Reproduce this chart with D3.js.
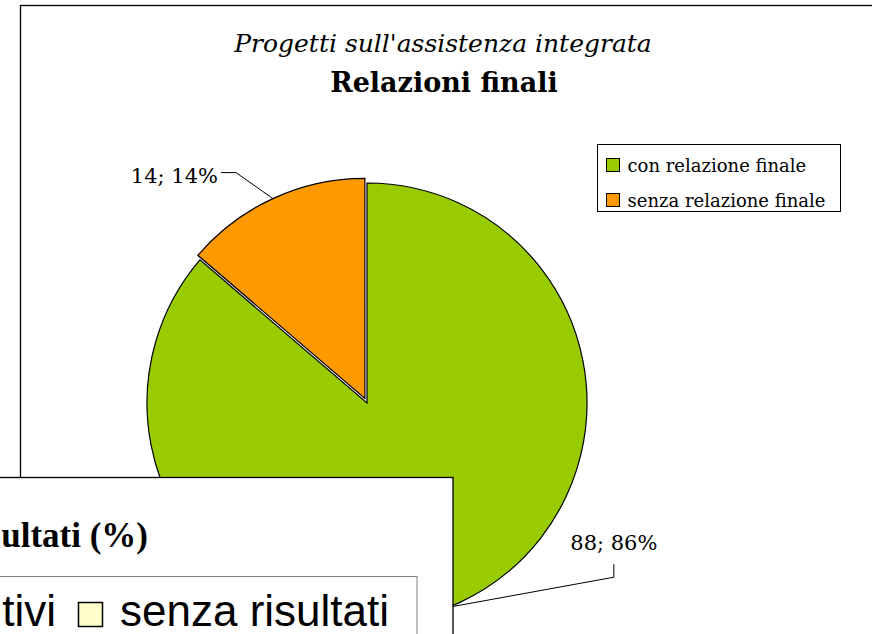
<!DOCTYPE html>
<html>
<head>
<meta charset="utf-8">
<script src="https://cdn.jsdelivr.net/npm/d3@7"></script>
<style>
  body { margin: 0; background: #fff; }
  svg { display: block; }
</style>
</head>
<body>
<div id="chart"></div>
<script>
// data
var categories = ['con relazione finale', 'senza relazione finale'];
var values = [88, 14];
var percents = ['86%', '14%'];
var colors = ['#99CC00', '#FF9900'];
var titleTop = "Progetti sull'assistenza integrata";
var titleMain = 'Relazioni finali';

// the other chart lying over the bottom-left corner (only the visible part)
var otherTitle = 'ultati (%)';
var otherLegend = ['tivi', 'senza risultati'];
var otherColors = ['#FFFFCC'];

var width = 872, height = 634;
var svg = d3.select('#chart').append('svg')
	.attr('width', width)
	.attr('height', height);

var serif = '"DejaVu Serif", serif';

// chart frame
svg.append('rect')
	.attr('x', 20.5).attr('y', 5.5)
	.attr('width', 870).attr('height', 700)
	.attr('fill', '#fff')
	.attr('stroke', '#000')
	.attr('stroke-width', 1.3);

svg.append('text')
	.attr('x', 443).attr('y', 52)
	.attr('text-anchor', 'middle')
	.style('font-family', serif)
	.style('font-style', 'italic')
	.style('font-size', '25px')
	.text(titleTop);

svg.append('text')
	.attr('x', 444).attr('y', 92)
	.attr('text-anchor', 'middle')
	.style('font-family', serif)
	.style('font-weight', 'bold')
	.style('font-size', '27px')
	.text(titleMain);

// pie
var cx = 367, cy = 403, r = 220;
var explode = [0, 5];

var pie = d3.pie().sort(null).value(function(d) { return d; });
var arcs = pie(values);
var arc = d3.arc().innerRadius(0).outerRadius(r);

function midAngle(d) { return (d.startAngle + d.endAngle) / 2; }
function offset(d, i) {
	var a = midAngle(d);
	return [Math.sin(a) * explode[i], -Math.cos(a) * explode[i]];
}

var pieG = svg.append('g').attr('transform', 'translate(' + cx + ',' + cy + ')');

pieG.selectAll('path.slice')
	.data(arcs)
	.enter().append('path')
	.attr('class', 'slice')
	.attr('transform', function(d, i) { var o = offset(d, i); return 'translate(' + o[0] + ',' + o[1] + ')'; })
	.attr('d', arc)
	.attr('fill', function(d, i) { return colors[i]; })
	.attr('stroke', '#000')
	.attr('stroke-width', 1.2)
	.attr('stroke-linejoin', 'miter');

// data labels with leader lines
var labelFont = 21;
// elbow and text offsets from the arc point, per slice
var leader = [
	{ elbow: [165, -30], up: -13, anchor: 'middle', tx: 0, ty: -14 },
	{ elbow: [-37, -26], side: -15, anchor: 'end', tx: -3, ty: 10 }
];

arcs.forEach(function(d, i) {
	var o = offset(d, i);
	var a = midAngle(d);
	if (i === 0) a = a + 0.05;
	var px = Math.sin(a) * r + o[0];
	var py = -Math.cos(a) * r + o[1];
	var L = leader[i];
	var ex = px + L.elbow[0], ey = py + L.elbow[1];
	var pts, tx, ty;
	if (i === 0) {
		pts = [[px, py], [ex, ey], [ex, ey + L.up]];
		tx = ex; ty = ey + L.up + L.ty;
	} else {
		pts = [[px, py], [ex, ey], [ex + L.side, ey]];
		tx = ex + L.side + L.tx; ty = ey + L.ty;
	}
	pieG.append('path')
		.attr('d', d3.line()(pts))
		.attr('fill', 'none')
		.attr('stroke', '#000')
		.attr('stroke-width', 1);
	pieG.append('text')
		.attr('x', tx).attr('y', ty)
		.attr('text-anchor', L.anchor)
		.style('font-family', serif)
		.style('font-size', labelFont + 'px')
		.text(values[i] + '; ' + percents[i]);
});

// legend
var legend = svg.append('g').attr('transform', 'translate(597.5,144.5)');
legend.append('rect')
	.attr('width', 243).attr('height', 67)
	.attr('fill', '#fff')
	.attr('stroke', '#000')
	.attr('stroke-width', 1);

var item = legend.selectAll('g.item')
	.data(categories)
	.enter().append('g')
	.attr('class', 'item')
	.attr('transform', function(d, i) { return 'translate(0,' + (i * 35) + ')'; });

item.append('rect')
	.attr('x', 9).attr('y', 14)
	.attr('width', 13).attr('height', 13)
	.attr('fill', function(d, i) { return colors[i]; })
	.attr('stroke', '#000')
	.attr('stroke-width', 1);

item.append('text')
	.attr('x', 30).attr('y', 27)
	.style('font-family', serif)
	.style('font-size', '18px')
	.text(function(d) { return d; });

// overlapping chart (bottom-left)
var over = svg.append('g');
over.append('rect')
	.attr('x', -20).attr('y', 477.5)
	.attr('width', 473).attr('height', 200)
	.attr('fill', '#fff')
	.attr('stroke', '#000')
	.attr('stroke-width', 1.3);

over.append('text')
	.attr('x', 148).attr('y', 547)
	.attr('text-anchor', 'end')
	.style('font-family', '"Liberation Serif", serif')
	.style('font-weight', 'bold')
	.style('font-size', '35px')
	.text(otherTitle);

over.append('rect')
	.attr('x', -20).attr('y', 576.5)
	.attr('width', 437).attr('height', 100)
	.attr('fill', '#fff')
	.attr('stroke', '#808080')
	.attr('stroke-width', 1);

over.append('text')
	.attr('x', 56).attr('y', 626)
	.attr('text-anchor', 'end')
	.style('font-family', '"Liberation Sans", Arial, sans-serif')
	.style('font-size', '44px')
	.text(otherLegend[0]);

over.append('rect')
	.attr('x', 78.5).attr('y', 602.5)
	.attr('width', 24).attr('height', 24)
	.attr('fill', otherColors[0])
	.attr('stroke', '#000')
	.attr('stroke-width', 1.5);

over.append('text')
	.attr('x', 120).attr('y', 626)
	.style('font-family', '"Liberation Sans", Arial, sans-serif')
	.style('font-size', '44px')
	.text(otherLegend[1]);
</script>
</body>
</html>
